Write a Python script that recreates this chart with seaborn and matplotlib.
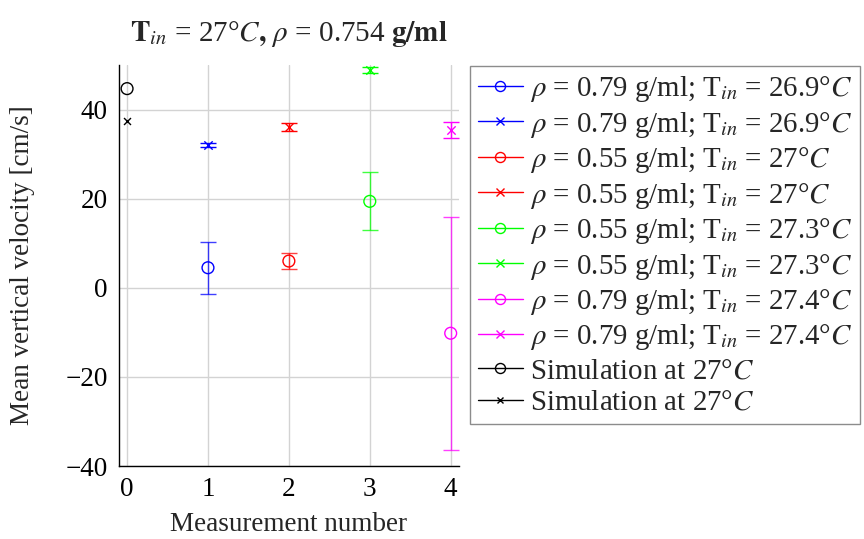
import numpy as np
import pandas as pd
import matplotlib
matplotlib.use("Agg")
import matplotlib.pyplot as plt
from matplotlib.lines import Line2D
import seaborn as sns

# ---- data ----
measurement = [1, 1, 2, 2, 3, 3, 4, 4, 0, 0]
velocity = [4.5, 32.1, 6.0, 36.0, 19.4, 48.8, -10.2, 35.4, 44.7, 37.4]
error = [5.8, 0.5, 1.8, 0.9, 6.5, 0.7, 26.1, 1.7, 0.0, 0.0]
markers = ["o", "x", "o", "x", "o", "x", "o", "x", "o", "x"]
colors = ["#0000ff", "#0000ff", "#ff0000", "#ff0000", "#00ff00", "#00ff00",
          "#ff00ff", "#ff00ff", "#000000", "#000000"]
labels = [
    r"$\rho$ = 0.79 g/ml; T$_{in}$ = 26.9°$C$",
    r"$\rho$ = 0.79 g/ml; T$_{in}$ = 26.9°$C$",
    r"$\rho$ = 0.55 g/ml; T$_{in}$ = 27°$C$",
    r"$\rho$ = 0.55 g/ml; T$_{in}$ = 27°$C$",
    r"$\rho$ = 0.55 g/ml; T$_{in}$ = 27.3°$C$",
    r"$\rho$ = 0.55 g/ml; T$_{in}$ = 27.3°$C$",
    r"$\rho$ = 0.79 g/ml; T$_{in}$ = 27.4°$C$",
    r"$\rho$ = 0.79 g/ml; T$_{in}$ = 27.4°$C$",
    r"Simulation at 27°$C$",
    r"Simulation at 27°$C$",
]
x_ticks = [0, 1, 2, 3, 4]
y_ticks = [-40, -20, 0, 20, 40]

df = pd.DataFrame({"x": measurement, "y": velocity, "err": error,
                   "marker": markers, "color": colors, "label": labels})

sns.set_theme(style="white")
plt.rcParams["font.family"] = ["serif"]
plt.rcParams["font.serif"] = ["Liberation Serif", "DejaVu Serif"]
plt.rcParams["mathtext.fontset"] = "stix"

FS = 19.5

fig = plt.figure(figsize=(8.64, 5.39), dpi=100)
ax = fig.add_axes([0.1377, 0.1354, 0.531 - 0.1377, 0.8794 - 0.1354])

handles = []
for i, row in df.iterrows():
    is_sim = row["color"] == "#000000"
    ms = 8.5 if row["marker"] == "o" else 6
    if is_sim and row["marker"] == "x":
        ms = 5
    if row["err"] > 0:
        ax.errorbar(row["x"], row["y"], yerr=row["err"], fmt="none",
                    ecolor=row["color"], elinewidth=1.0, capsize=5.5,
                    capthick=1.0, alpha=0.75 if row["marker"] == "o" else 1.0,
                    zorder=2)
    sub = df.iloc[[i]]
    if row["marker"] == "o":
        sns.scatterplot(data=sub, x="x", y="y", ax=ax, marker="o", s=ms ** 2,
                        facecolors="none", edgecolor=row["color"],
                        linewidth=1.0, zorder=3, legend=False)
    else:
        sns.scatterplot(data=sub, x="x", y="y", ax=ax, marker="x", s=ms ** 2,
                        color=row["color"], linewidth=1.0, zorder=3,
                        legend=False)
    handles.append(Line2D([0], [0], color=row["color"], lw=1.0,
                          marker=row["marker"], markersize=ms * 0.85,
                          markerfacecolor="none",
                          markeredgecolor=row["color"],
                          markeredgewidth=1.0, label=row["label"]))

ax.set_xlim(-0.1, 4.1)
ax.set_ylim(-40, 50)
ax.set_xticks(x_ticks)
ax.set_yticks(y_ticks)
ax.grid(True, color="#d3d3d3", linewidth=1.0)
ax.set_axisbelow(True)
for s in ["top", "right"]:
    ax.spines[s].set_visible(False)
for s in ["left", "bottom"]:
    ax.spines[s].set_color("black")
    ax.spines[s].set_linewidth(1.0)
ax.tick_params(direction="in", length=8, width=1.0, color="#808080",
               labelsize=FS, labelcolor="black", pad=8)
ax.tick_params(axis="x", pad=8)

ax.set_xlabel("Measurement number", fontsize=FS, labelpad=7)
ax.set_ylabel("Mean vertical velocity [cm/s]", fontsize=FS, labelpad=22)
ax.set_title(r"$\mathbf{T}_{in}$ = 27°$C$$\mathbf{,}$ $\rho$ = 0.754 $\mathbf{g/ml}$",
             fontsize=21, pad=17)

leg = fig.legend(handles=handles, loc="upper left",
                 bbox_to_anchor=(0.544, 0.8776), fontsize=20.8,
                 frameon=True, fancybox=False, edgecolor="#707070",
                 handlelength=1.55, handletextpad=0.25, labelspacing=0.19,
                 borderpad=0.28, borderaxespad=0.0)
leg.get_frame().set_linewidth(1.0)

fig.savefig("out.png", dpi=100)
